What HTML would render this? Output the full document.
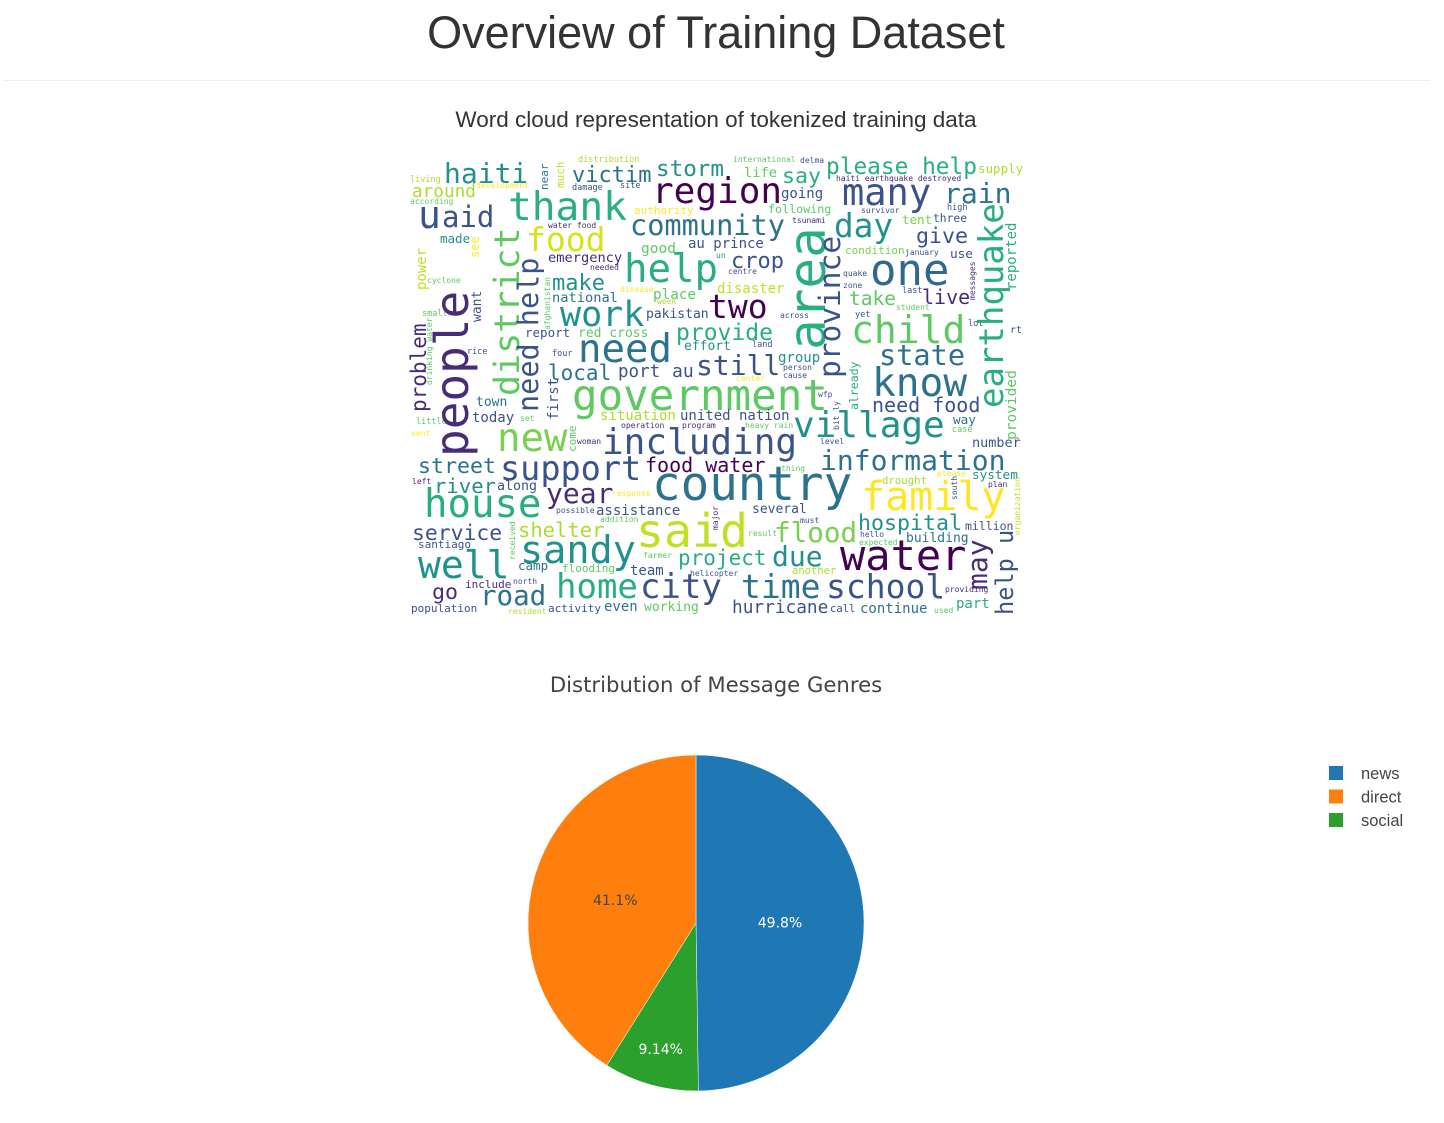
<!DOCTYPE html>
<html><head><meta charset="utf-8"><style>
html,body{margin:0;padding:0;background:#fff;width:1444px;height:1123px;overflow:hidden}
svg{position:absolute;left:0;top:0}
</style></head><body>
<svg id="s" width="1444" height="1123" xmlns="http://www.w3.org/2000/svg">
<text x="716" y="48" text-anchor="middle" font-family="Liberation Sans, sans-serif" font-size="45" fill="#333">Overview of Training Dataset</text>
<rect x="4" y="80" width="1426" height="1" fill="#eee"/>
<text x="716" y="127" text-anchor="middle" font-family="Liberation Sans, sans-serif" font-size="22.5" fill="#333">Word cloud representation of tokenized training data</text>
<g id="wc" font-family="DejaVu Sans Mono, Liberation Mono, monospace"></g>
<text x="716" y="692" text-anchor="middle" font-family="DejaVu Sans, sans-serif" font-size="21.2" fill="#444">Distribution of Message Genres</text>
<g id="pie"></g>
<g id="leg" font-family="Liberation Sans, sans-serif" font-size="16.5" fill="#444"></g>
</svg>
<script>
const NS="http://www.w3.org/2000/svg";
const P="#472c7a",D="#440154",B="#3b528b",T="#2c728e",C="#21918c",G="#28ae80",L="#5ec962",Y="#c2df23",YY="#fde725",LG="#7ad151";
const words=[
["haiti",444,183,28,C],["victim",572,182,22,T],["storm",656,176,22.6,C],["please help",826,174,22.8,G],["supply",978,173,12.5,"#addc30"],
["life",744,177,13.7,L],["say",782,183,21.6,G],["region",652,203,36,D],["many",842,205,37,B],["rain",944,203,28,T],
["around",412,197,17.7,"#addc30"],["u",418,228,38,B],["aid",442,227,29,B],["thank",508,220,39.5,G],["community",630,235,28.6,T],
["day",834,237,32.7,C],["give",916,243,21.6,B],["food",526,251,33,"#d8e219"],["au prince",688,248,14,B],["good",641,253,14.5,L],
["emergency",548,262,13.7,P],["help",624,282,39,G],["crop",731,268,22,B],["one",870,285,44,"#31688e"],["make",552,290,22,C],
["disaster",717,293,14,Y],["national",552,302,13.7,T],["place",653,299,14.3,L],["take",849,305,19.5,L],["live",922,304,20,P],
["two",708,318,33,D],["work",560,326,35,C],["pakistan",646,318,13,B],["child",851,343,38,L],["provide",676,340,23,G],
["report",525,337,12.5,B],["red cross",578,337,13,L],["need",578,362,39,T],["effort",684,350,13,C],["state",879,365,28.6,T],
["local",548,380,21,T],["port",618,377,17.5,B],["au",672,377,18,B],["still",696,375,28,B],["group",778,362,14,C],
["know",872,396,39.5,T],["government",572,410,42.5,L],["need food",872,412,20,B],["village",793,437,36,C],["town",476,406,13,T],
["today",472,422,14,B],["situation",600,420,14,"#addc30"],["united nation",680,420,14,B],["new",497,451,39,LG],["including",602,454,36,B],
["information",820,470,28,T],["street",418,473,21.6,T],["support",500,480,33.5,B],["food water",645,472,20,D],["river",434,493,20.6,C],
["along",497,490,13.3,B],["country",652,500,47.5,T],["family",861,510,40,YY],["year",546,503,28,P],["house",424,517,39,G],
["assistance",596,515,14,B],["several",752,513,13,B],["hospital",858,530,21.6,C],["shelter",518,537,20.5,"#addc30"],["said",636,547,46.5,Y],
["flood",774,542,27.6,LG],["service",412,540,21.4,B],["million",965,530,11.5,B],["building",906,542,13,T],["sandy",520,563,38.5,C],
["santiago",418,548,11,B],["well",418,578,38,C],["project",678,565,21,G],["due",772,566,28,C],["water",840,570,42,D],
["camp",518,570,12.5,T],["flooding",562,572,11,L],["team",630,575,14,B],["another",792,574,10.5,"#addc30"],["home",556,598,34,G],
["city",640,598,34,B],["time",741,598,33,T],["school",826,598,33,B],["include",465,588,11,P],["go",432,599,21.6,P],
["road",480,605,27.5,T],["population",411,612,11,B],["activity",548,612,11,B],["even",604,611,14,T],["working",644,611,13,L],
["hurricane",732,613,17.8,B],["call",830,612,10.5,B],["continue",860,613,14,T],["part",956,608,14,G],["condition",845,254,11,LG],
["tent",902,224,12.5,LG],["three",933,222,11.3,B],["following",768,213,11.7,L],["going",781,198,14,B],["authority",634,214,11,YY],
["made",440,243,12.5,C],["use",950,258,12.7,B],["number",972,447,13.5,B],["system",972,479,12.7,C],["way",953,424,12.7,T],["drought",882,484,10.7,"#addc30"],
["distribution",578,162,8.5,"#addc30"],["international",733,162,8,L],["delma",800,163,8,B],["living",410,182,8.5,"#addc30"],["development",476,188,8,YY],
["according",410,204,8,L],["damage",572,190,8.5,B],["site",620,188,8.5,B],["haiti earthquake destroyed",836,181,8,P],["survivor",861,213,8,B],
["high",947,210,8.5,B],["tsunami",792,223,8,P],["water food",548,228,8,P],["january",905,255,8,B],["needed",590,270,8,P],
["centre",728,274,8,B],["un",716,258,8,C],["quake",843,276,8,B],["zone",843,288,8,B],["last",902,293,8.5,B],["student",896,310,8,L],
["across",780,318,8,B],["yet",855,317,8.5,B],["lot",968,326,8.5,B],["rt",1010,333,10,B],["land",752,347,8.5,B],["four",552,356,8.5,B],
["rice",467,354,8.5,B],["cyclone",427,283,8,L],["disease",620,292,8,YY],["week",657,304,8,"#addc30"],["small",422,316,8.5,L],
["person",783,370,8,B],["cause",783,378,8,B],["center",736,381,8,YY],["wfp",818,397,8,B],["little",416,424,8.5,L],["set",520,421,8,L],
["operation",621,428,8,P],["program",682,428,8,P],["heavy rain",745,428,8,L],["level",820,444,8,B],["case",952,432,8.5,L],["sent",411,436,8,YY],
["woman",577,444,8,P],["thing",781,471,8,L],["please",937,476,8,YY],["plan",988,487,8,P],["left",412,484,8,P],["response",612,496,8,YY],
["possible",556,513,8,B],["addition",600,522,8,L],["must",800,523,8,B],["result",748,536,8,L],["hello",860,537,8,B],["expected",859,545,8,L],
["farmer",643,558,8,L],["helicopter",690,576,8,B],["north",513,584,8,B],["resident",508,614,8,"#addc30"],["providing",945,592,8,P],["used",934,613,8,L]
];
const vwords=[
["people",468,457,46,P],["district",519,396,35,L],["need help",538,412,28.5,B],["problem",426,412,21,P],["area",825,350,51,G],
["province",840,378,29.5,B],["earthquake",1003,408,34,G],["may",987,590,28,P],["help u",1013,615,23.6,B],["reported",1016,290,14,G],
["provided",1016,440,14.5,L],["first",558,420,14,B],["come",576,452,11,L],["already",858,410,11.5,G],["power",426,290,14,Y],
["see",479,258,12,YY],["want",481,322,13,B],["much",564,188,11,Y],["near",548,190,11,T],["organization",1020,535,8,Y],["south",957,500,8,B],
["received",515,560,8,L],["afghanistan",550,330,8,L],["drinking water",432,385,8,L],["messages",975,300,8,P],["bit ly",839,430,8,B],["major",718,530,8,P]
];
const wc=document.getElementById("wc");
words.forEach(w=>{const t=document.createElementNS(NS,"text");
t.setAttribute("x",w[1]);t.setAttribute("y",w[2]);t.setAttribute("font-size",w[3]);t.setAttribute("fill",w[4]);
t.textContent=w[0];


wc.appendChild(t);});
vwords.forEach(w=>{const t=document.createElementNS(NS,"text");
t.setAttribute("transform","translate("+w[1]+","+w[2]+") rotate(-90)");t.setAttribute("font-size",w[3]);t.setAttribute("fill",w[4]);
t.textContent=w[0];


wc.appendChild(t);});

// pie data
const genres=["news","direct","social"];
const counts=[10766,8888,1976];
const colors=["#1f77b4","#ff7f0e","#2ca02c"];
const drawOrder=[0,2,1];
const cx=696,cy=923,R=168;
const total=counts.reduce((a,b)=>a+b,0);
const pie=document.getElementById("pie");
let a0=0;
drawOrder.forEach(i=>{
  const frac=counts[i]/total,a1=a0+frac*2*Math.PI;
  const p=(a)=>[cx+R*Math.sin(a),cy-R*Math.cos(a)];
  const s=p(a0),e=p(a1);
  const path=document.createElementNS(NS,"path");
  path.setAttribute("d","M"+cx+","+cy+"L"+s[0]+","+s[1]+"A"+R+","+R+" 0 "+(frac>0.5?1:0)+" 1 "+e[0]+","+e[1]+"Z");
  path.setAttribute("fill",colors[i]);path.setAttribute("stroke","#fff");path.setAttribute("stroke-width","0.5");
  
  
  pie.appendChild(path);
  const am=(a0+a1)/2,rr=frac<0.15?0.78*R:0.5*R;
  const lab=document.createElementNS(NS,"text");
  lab.setAttribute("x",cx+rr*Math.sin(am));lab.setAttribute("y",cy-rr*Math.cos(am)+5);
  lab.setAttribute("text-anchor","middle");lab.setAttribute("font-family","DejaVu Sans, sans-serif");lab.setAttribute("font-size","14");
  lab.setAttribute("fill",i===1?"#444":"#fff");
  const pct=frac*100;lab.textContent=(pct<10?pct.toFixed(2):pct.toFixed(1))+"%";
  
  
  pie.appendChild(lab);
  a0=a1;
});
const leg=document.getElementById("leg");
genres.forEach((g,i)=>{
  const r=document.createElementNS(NS,"rect");
  r.setAttribute("x",1329);r.setAttribute("y",766+i*23.5);r.setAttribute("width",14);r.setAttribute("height",14);r.setAttribute("fill",colors[i]);
  
  
  leg.appendChild(r);
  const t=document.createElementNS(NS,"text");
  t.setAttribute("x",1361);t.setAttribute("y",779+i*23.5);t.textContent=g;
  
  
  leg.appendChild(t);
});
</script>
</body></html>
